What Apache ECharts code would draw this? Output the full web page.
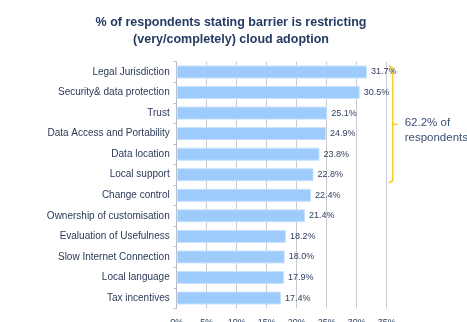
<!DOCTYPE html>
<html><head><meta charset="utf-8">
<script src="https://cdn.jsdelivr.net/npm/echarts@6/dist/echarts.min.js"></script>
<style>html,body{margin:0;padding:0;background:#fff}#c{width:467px;height:322px}</style>
</head><body><div id="c"></div>
<script>
const categories = ["Legal Jurisdiction","Security& data protection","Trust","Data Access and Portability","Data location","Local support","Change control","Ownership of customisation","Evaluation of Usefulness","Slow Internet Connection","Local language","Tax incentives"];
const values = [31.7,30.5,25.1,24.9,23.8,22.8,22.4,21.4,18.2,18.0,17.9,17.4];
const xTicks = [0,5,10,15,20,25,30,35];
const bracketText = ["62.2% of","respondents"];

const chart = echarts.init(document.getElementById('c'), null, {renderer:'canvas'});
chart.setOption({
  animation:false,
  title:{text:"% of respondents stating barrier is restricting\n(very/completely) cloud adoption",left:226,top:9,textAlign:'center',
    textStyle:{fontFamily:'Liberation Sans, Arial',fontWeight:'bold',fontSize:12.5,color:'#243b63',lineHeight:17}},
  grid:{left:176.7,right:80.3,top:61.7,bottom:13.7,containLabel:false,outerBoundsMode:'none'},
  xAxis:{type:'value',min:xTicks[0],max:xTicks[xTicks.length-1],interval:xTicks[1]-xTicks[0],
    axisLine:{show:false},axisTick:{show:false},
    splitLine:{lineStyle:{color:'#c9cad2',width:1}},
    axisLabel:{formatter:v=>v+'%',fontSize:9,color:'#2e3e5c',margin:10,fontFamily:'Liberation Sans, Arial'}},
  yAxis:{type:'category',data:categories,inverse:true,
    axisLine:{lineStyle:{color:'#b8b9c2'}},
    axisTick:{show:true,length:3,lineStyle:{color:'#b8b9c2'}},
    axisLabel:{fontSize:10,color:'#2b3a58',margin:7,fontFamily:'Liberation Sans, Arial'}},
  series:[{type:'bar',data:values,barWidth:13,
    itemStyle:{color:'#9dcbfb',borderColor:'#c9e2fd',borderWidth:1},
    label:{show:true,position:'right',distance:4,formatter:p=>p.value.toFixed(1)+'%',fontSize:9,color:'#2e3e5c',fontFamily:'Liberation Sans, Arial'}}]
});

const yTop = chart.convertToPixel({yAxisIndex:0}, categories[0]);
const yBot = chart.convertToPixel({yAxisIndex:0}, categories[5]);
const xr = chart.convertToPixel({xAxisIndex:0}, 35) + 2;
const y1 = yTop - 6, y2 = yBot + 8, ym = (y1 + y2) / 2;
chart.setOption({graphic:[
  {type:'polyline',shape:{points:[[xr,y1],[xr+4,y1+2],[xr+4,y2-2],[xr,y2]]},style:{stroke:'#f4cf2a',lineWidth:1.5,fill:null}},
  {type:'line',shape:{x1:xr+4,y1:ym,x2:xr+9,y2:ym},style:{stroke:'#f4cf2a',lineWidth:1.5}},
  {type:'text',x:xr+16,y:ym-9,style:{text:bracketText.join('\n'),fontSize:11.5,lineHeight:15,fill:'#3b4f73',fontFamily:'Liberation Sans, Arial'}}
]});
</script></body></html>
